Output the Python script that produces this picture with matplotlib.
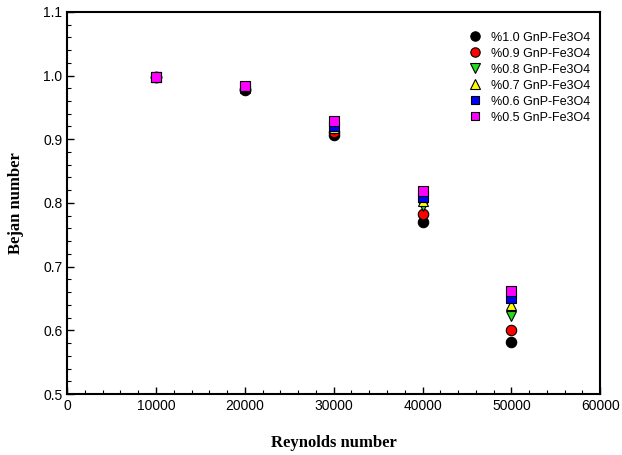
import matplotlib
matplotlib.use("Agg")
import matplotlib.pyplot as plt
from matplotlib.ticker import MultipleLocator

# Reynolds numbers
re = [10000, 20000, 30000, 40000, 50000]

# Bejan number per concentration
be_10 = [0.998, 0.978, 0.907, 0.770, 0.582]
be_09 = [0.998, 0.979, 0.912, 0.782, 0.601]
be_08 = [0.998, 0.980, 0.916, 0.795, 0.622]
be_07 = [0.998, 0.981, 0.918, 0.803, 0.640]
be_06 = [0.998, 0.982, 0.921, 0.810, 0.651]
be_05 = [0.998, 0.983, 0.928, 0.818, 0.662]

labels = ["%1.0 GnP-Fe3O4", "%0.9 GnP-Fe3O4", "%0.8 GnP-Fe3O4",
          "%0.7 GnP-Fe3O4", "%0.6 GnP-Fe3O4", "%0.5 GnP-Fe3O4"]
series = [be_10, be_09, be_08, be_07, be_06, be_05]
markers = ["o", "o", "v", "^", "s", "s"]
colors = ["black", "red", "#22dd22", "yellow", "blue", "magenta"]
sizes = [7.5, 7.5, 7.5, 7.5, 6.5, 6.5]

fig = plt.figure(figsize=(6.22, 4.55), dpi=100)
ax = fig.add_axes([0.108, 0.134, 0.857, 0.840])

for y, m, c, s, lab in zip(series, markers, colors, sizes, labels):
    ax.plot(re, y, linestyle="none", marker=m, markersize=s,
            markerfacecolor=c, markeredgecolor="black", markeredgewidth=0.8,
            label=lab)

ax.set_xlim(0, 60000)
ax.set_ylim(0.5, 1.1)
ax.xaxis.set_major_locator(MultipleLocator(10000))
ax.xaxis.set_minor_locator(MultipleLocator(2000))
ax.yaxis.set_major_locator(MultipleLocator(0.1))
ax.yaxis.set_minor_locator(MultipleLocator(0.02))
ax.yaxis.set_major_formatter(plt.FormatStrFormatter("%.1f"))
ax.tick_params(which="both", direction="in", top=False, right=False)
ax.tick_params(which="major", length=5, width=1)
ax.tick_params(which="minor", length=3, width=0.8)
for lab in ax.get_xticklabels() + ax.get_yticklabels():
    lab.set_fontfamily("Liberation Sans")
    lab.set_fontsize(10)
for sp in ax.spines.values():
    sp.set_linewidth(1.5)

ax.set_xlabel("Reynolds number", fontfamily="Liberation Serif",
              fontweight="bold", fontsize=12, labelpad=16)
ax.set_ylabel("Bejan number", fontfamily="Liberation Serif",
              fontweight="bold", fontsize=12, labelpad=14)

leg = ax.legend(loc="upper right", bbox_to_anchor=(0.996, 0.968), frameon=False,
                prop={"family": "Liberation Sans", "size": 9},
                handletextpad=0.5, labelspacing=0.32, handlelength=1.6,
                markerscale=0.9, borderaxespad=0.2)

fig.savefig("out.png", dpi=100)
